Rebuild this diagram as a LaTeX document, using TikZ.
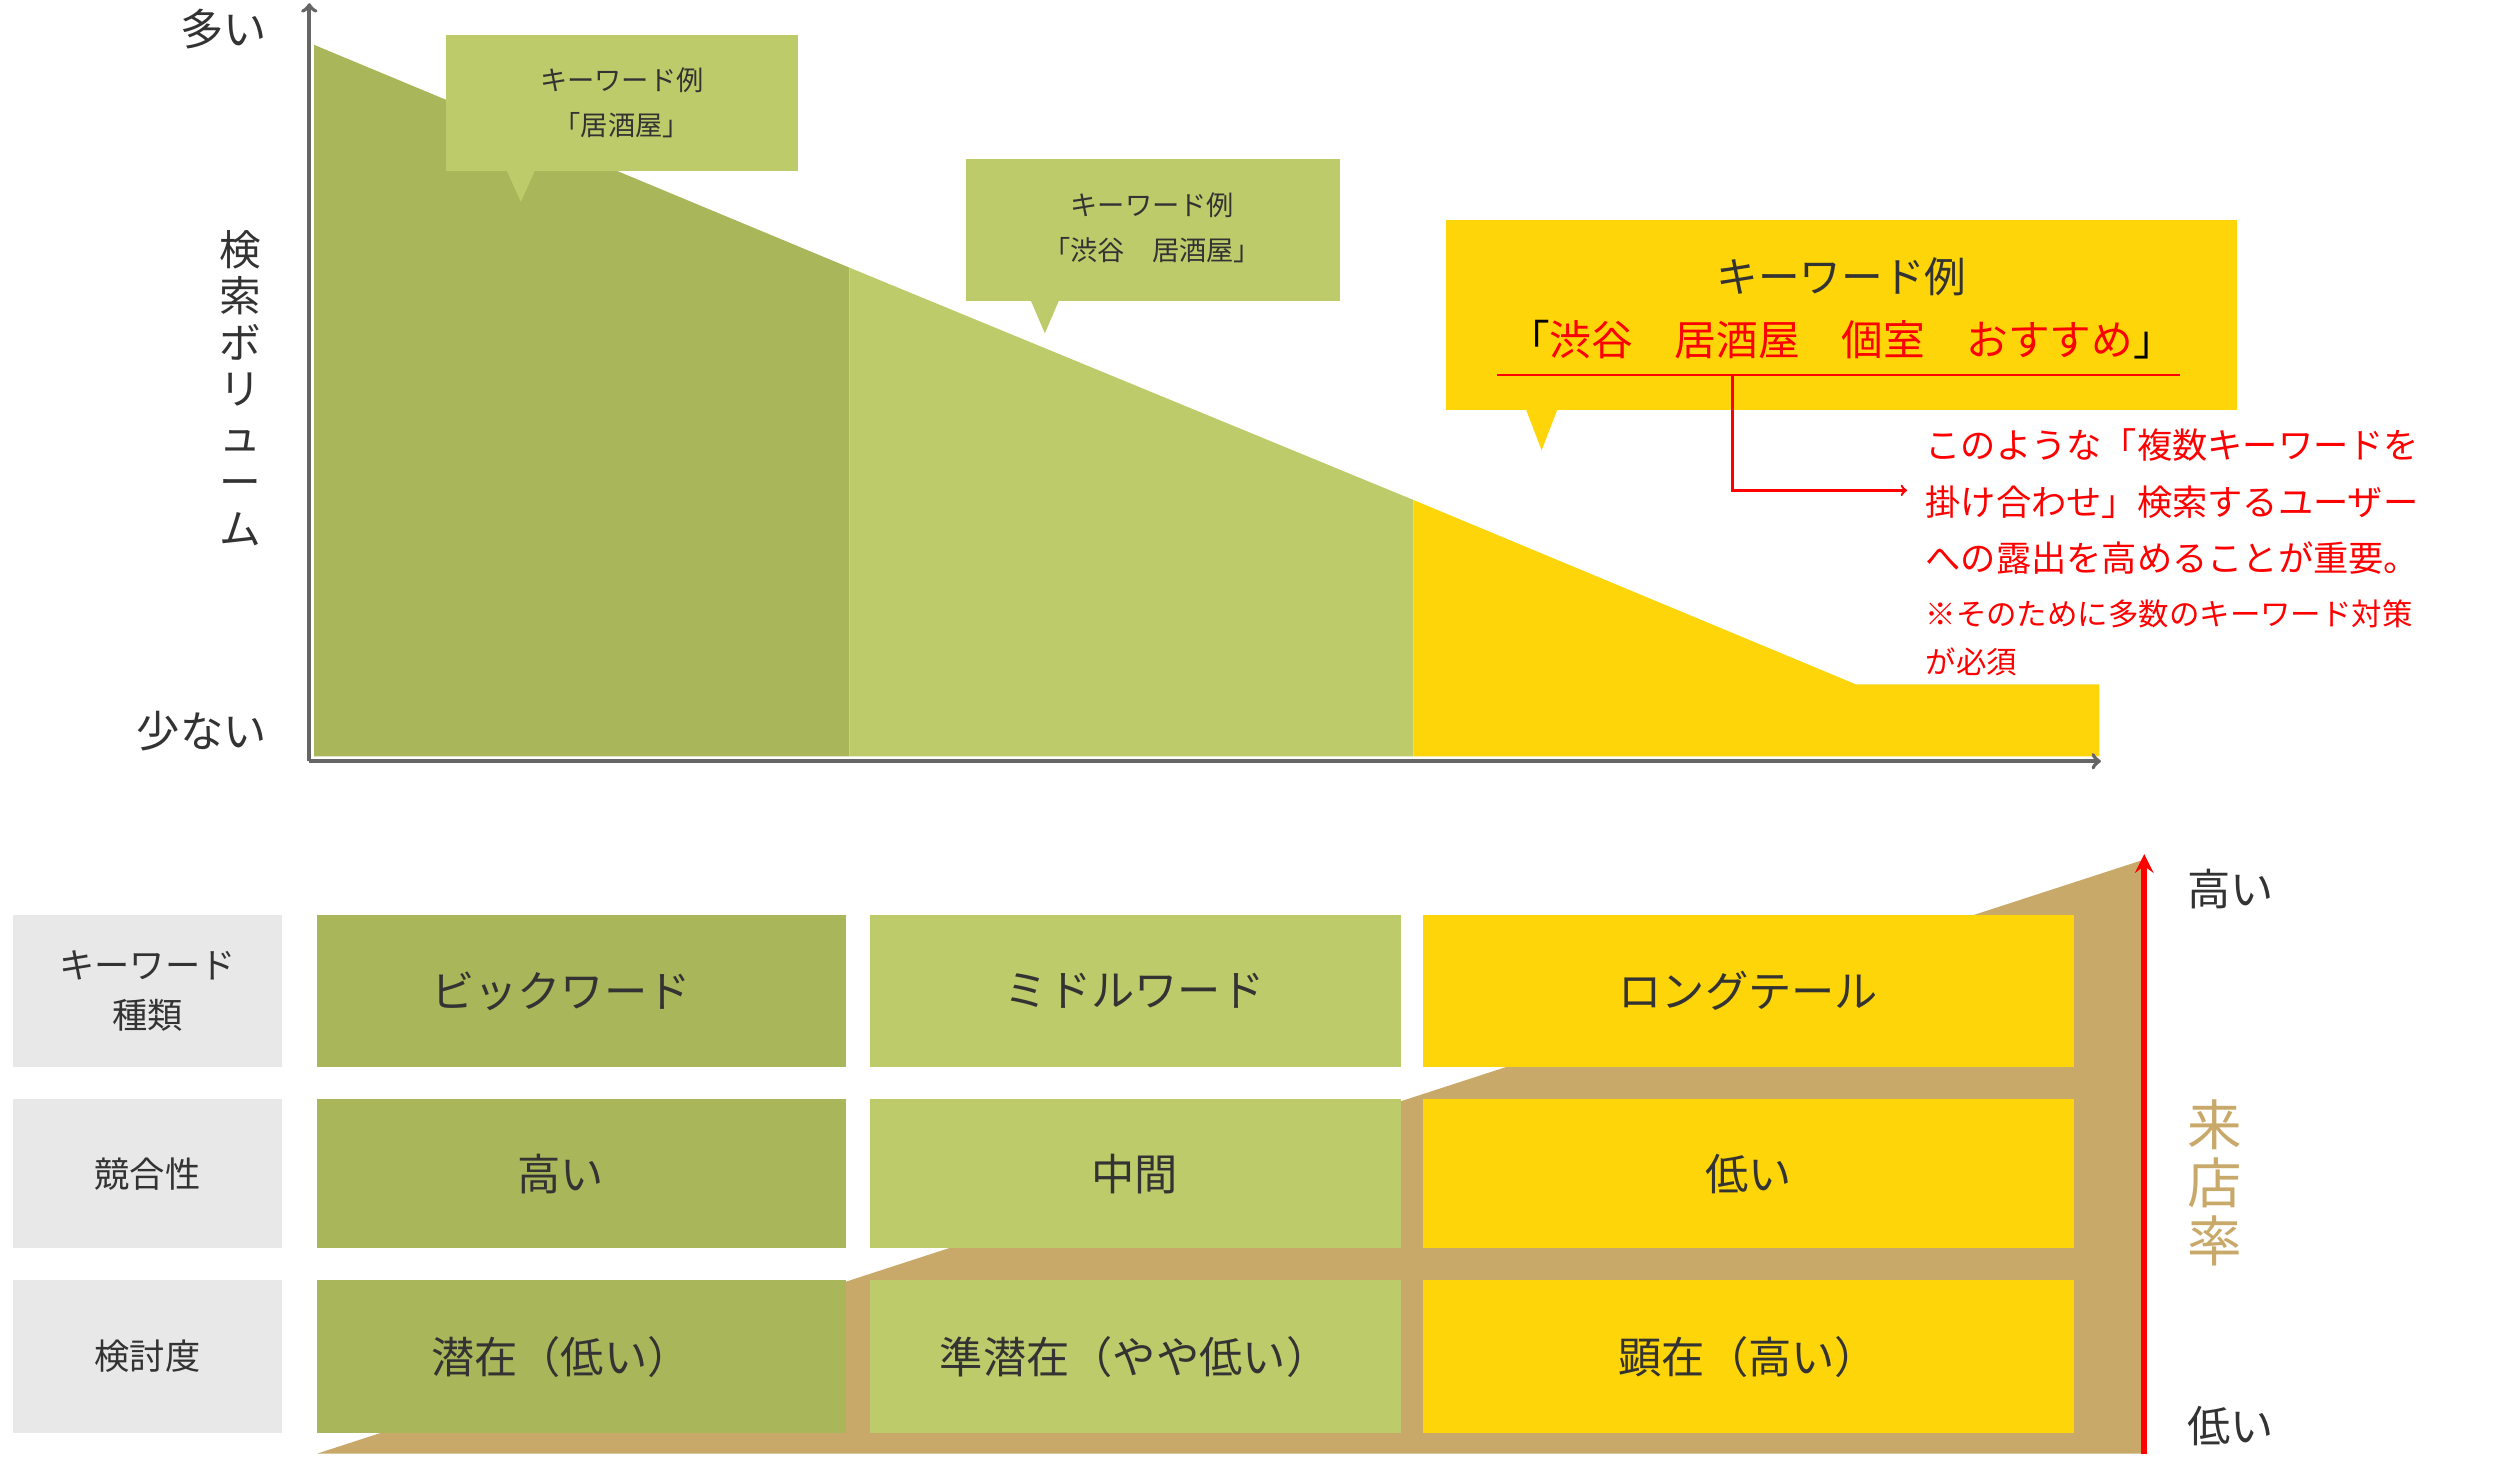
\documentclass[tikz,border=0pt]{standalone}
\usepackage{fontspec}
\setmainfont{Noto Sans CJK JP}
\begin{document}
\begin{tikzpicture}[x=1pt,y=-1pt,
  fs/.style={font=\fontsize{#1}{#1}\selectfont},
  fsb/.style 2 args={font=\fontsize{#1}{#2}\selectfont},
  txt/.style={text=black!80},
  ]
\definecolor{dg}{HTML}{A9B65A}
\definecolor{lg}{HTML}{BDCB6A}
\definecolor{yl}{HTML}{FDD508}
\definecolor{tan}{HTML}{C8A96A}
\useasboundingbox (0,0) rectangle (1560,910);
% areas
\fill[dg] (196,28) -- (530,167) -- (530,472) -- (196,472) -- cycle;
\fill[lg] (530,167) -- (882,312) -- (882,472) -- (530,472) -- cycle;
\fill[yl] (882,312) -- (1158,427) -- (1310,427) -- (1310,472) -- (882,472) -- cycle;
% axes
\coordinate (o) at (193,475);
\coordinate (ytop) at (193,2);
\coordinate (xend) at (1311,475);
\draw[black!60,line width=2.5pt,->] (o) -- (ytop);
\draw[black!60,line width=2.5pt,->] (o) -- (xend);
\node[fs=27,txt,anchor=east] (many) at (170,18) {多い};
\node[fs=27,txt,anchor=east] (few) at (170,456) {少ない};
\node[fsb={26}{29},txt,align=center] (vol) at (150,242) {検\\索\\ボ\\リ\\ュ\\ー\\ム};
% callouts
\fill[lg] (278,22) rectangle (498,107);
\fill[lg] (316,106) -- (334,106) -- (325,126) -- cycle;
\node[fsb={17}{28},txt,align=center] (c1) at (388,64) {キーワード例\\「居酒屋」};
\fill[lg] (603,99) rectangle (836,188);
\fill[lg] (643,187) -- (661,187) -- (652,208) -- cycle;
\node[fsb={17}{28},txt,align=center] (c2) at (719,142) {キーワード例\\「渋谷　居酒屋」};
\fill[yl] (902,137) rectangle (1396,256);
\fill[yl] (952,255) -- (972,255) -- (962,281) -- cycle;
\node[fs=26,txt] (c3a) at (1149,173) {キーワード例};
\node[fs=26] (c3b) at (1149,212) {\textcolor{black}{「}\textcolor{red}{渋谷　居酒屋　個室　おすすめ}\textcolor{black}{」}};
\draw[red,line width=1.5pt] (934,234) -- (1360,234);
\coordinate (bl) at (1081,234);
\coordinate (ar) at (1190,306);
\draw[red,line width=1.5pt,->] (bl) |- (ar);
\node[fsb={22}{35},red,anchor=west,align=left] (note) at (1198,313) {このような「複数キーワードを\\掛け合わせ」検索するユーザー\\への露出を高めることが重要。};
\node[fsb={19}{30},red,anchor=west,align=left] (note2) at (1198,398) {※そのために多数のキーワード対策\\が必須};
% bottom tan triangle
\fill[tan] (198,907) -- (1336,537) -- (1336,907) -- cycle;
% label cells
\foreach \ya/\yb/\t in {571/666/{キーワード\\種類},686/779/競合性,799/894/検討度}{
  \fill[black!9] (8,\ya) rectangle (176,\yb);
  \node[fsb={22}{31},txt,align=center] at (92,{(\ya+\yb)/2}) {\t};
}
\foreach \ya/\yb/\a/\b/\c in {571/666/ビックワード/ミドルワード/ロングテール,686/779/高い/中間/低い,799/894/潜在（低い）/準潜在（やや低い）/顕在（高い）}{
  \fill[dg] (198,\ya) rectangle (528,\yb);
  \fill[lg] (543,\ya) rectangle (874,\yb);
  \fill[yl] (888,\ya) rectangle (1294,\yb);
  \node[fs=27,txt] at (350,{(\ya+\yb)/2}) {\a};
  \node[fs=27,txt] at (708,{(\ya+\yb)/2}) {\b};
  \node[fs=27,txt] at (1091,{(\ya+\yb)/2}) {\c};
}
\coordinate (ra) at (1338,907);
\coordinate (rb) at (1338,533);
\draw[red,line width=4pt,-stealth] (ra) -- (rb);
\node[fs=27,txt] (hi) at (1392,555) {高い};
\node[fs=27,txt] (lo) at (1392,890) {低い};
\node[fsb={34}{36},text=tan,align=center] (rate) at (1382,738) {来\\店\\率};
\end{tikzpicture}
\end{document}
